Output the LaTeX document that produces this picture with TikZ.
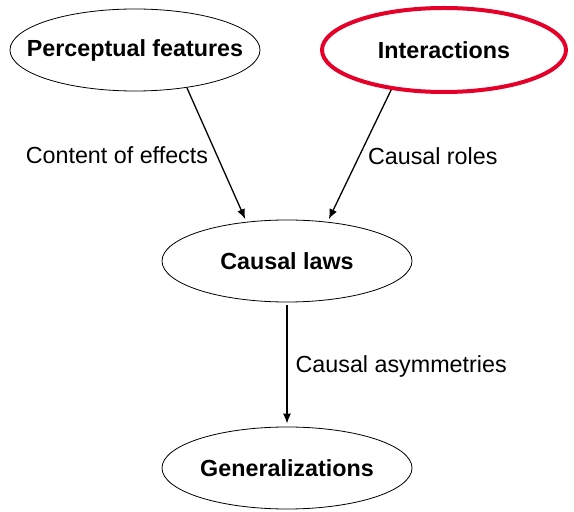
\documentclass[tikz,border=0pt]{standalone}
\usepackage{fontspec}
\setmainfont{Liberation Sans}
\usetikzlibrary{shapes.geometric,arrows.meta}

\definecolor{alertred}{RGB}{228,0,40}

\tikzset{
    concept/.style={draw, ellipse, line width=0.8pt, minimum width=250pt, minimum height=82pt,
        inner xsep=-25pt, inner ysep=0pt, font=\fontsize{23.3pt}{28pt}\selectfont\bfseries},
    link/.style={-{Latex[length=10pt,width=8pt]}, line width=1.3pt, shorten >=3pt},
    linklabel/.style={font=\fontsize{23.3pt}{28pt}\selectfont, inner sep=8pt}
}

\begin{document}
\begin{tikzpicture}[x=1pt,y=1pt]
    \useasboundingbox (0,0) rectangle (574,512);
    \coordinate (PercPos)  at (135,462);
    \coordinate (InterPos) at (444,462);
    \coordinate (LawsPos)  at (287,251);
    \coordinate (GenPos)   at (287,44);
    % Concepts
    \node [concept] (perc) at (PercPos) {Perceptual features};
    \node [concept, draw=alertred, line width=4pt, minimum width=244pt, minimum height=84pt] (inter) at (InterPos) {Interactions};
    \node [concept] (laws) at (LawsPos) {Causal laws};
    \node [concept] (gen) at (GenPos) {Generalizations};
    % Links between them
    \draw [link] (perc.-36) -- node[linklabel, left] (effects) {Content of effects} (laws.136);
    \draw [link] (inter.-143) -- node[linklabel, right] (roles) {Causal roles} (laws.44);
    \draw [link] (laws.south) ++(0,-3) coordinate (LawsOut) (LawsOut) -- node[linklabel, right] (asym) {Causal asymmetries} (gen.north);
\end{tikzpicture}
\end{document}
